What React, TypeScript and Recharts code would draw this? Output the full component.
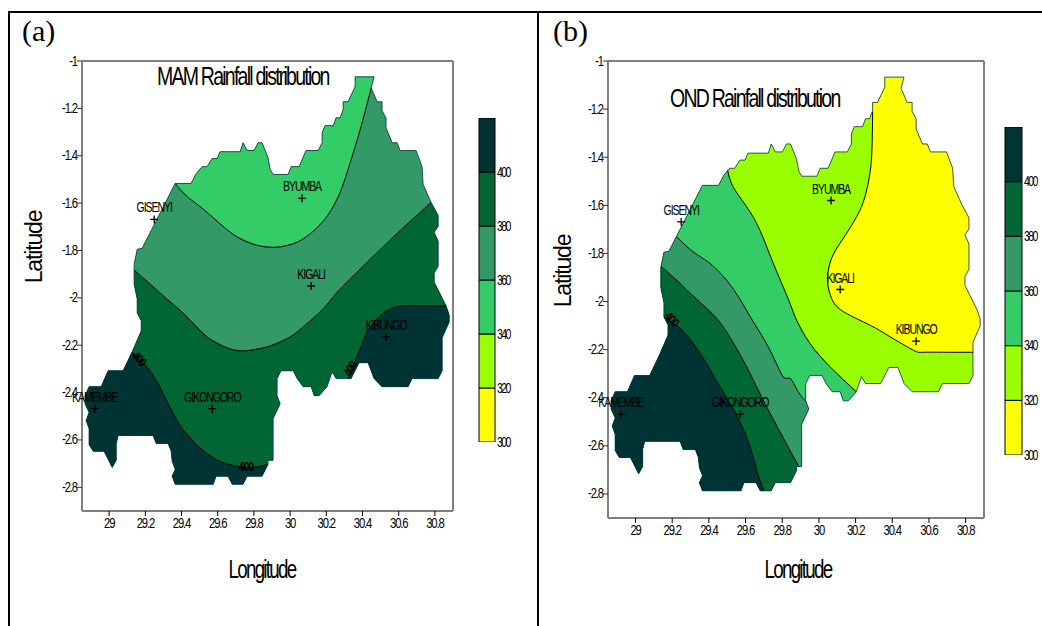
import React from 'react';
import { ScatterChart, Scatter, XAxis, YAxis, BarChart, Bar } from 'recharts';

type Pt = [number, number]; // lon, lat

const LON_TICKS = [29, 29.2, 29.4, 29.6, 29.8, 30, 30.2, 30.4, 30.6, 30.8];
const LAT_TICKS = [-1, -1.2, -1.4, -1.6, -1.8, -2, -2.2, -2.4, -2.6, -2.8];
const LON_DOMAIN = [28.85, 30.9];
const LAT_DOMAIN = [-2.9, -1];

const LEVELS = [300, 320, 340, 360, 380, 400];
const LEVEL_COLORS = ['#ffff00', '#99ff00', '#33cc66', '#339966', '#006633', '#003333'];
const BAND_WIDTH = 20;

const CITY_NAMES = ['GISENYI', 'BYUMBA', 'KIGALI', 'KIBUNGO', 'KAMEMBE', 'GIKONGORO'];
const CITY_LON = [29.249, 30.066, 30.116, 30.53, 28.92, 29.57];
const CITY_LAT = [-1.669, -1.58, -1.95, -2.165, -2.468, -2.468];

// Country border, clockwise from the north-west corner
const OUTLINE: Pt[] = [
  [29.365, -1.517], [29.453, -1.517], [29.481, -1.475], [29.514, -1.446], [29.541, -1.446],
  [29.569, -1.412], [29.597, -1.412], [29.613, -1.383], [29.724, -1.383], [29.74, -1.345],
  [29.762, -1.378], [29.801, -1.378], [29.823, -1.345], [29.845, -1.345], [29.878, -1.408],
  [29.89, -1.458], [29.906, -1.479], [29.989, -1.479], [30.006, -1.446], [30.05, -1.446],
  [30.088, -1.378], [30.155, -1.378], [30.177, -1.345], [30.177, -1.303], [30.193, -1.273],
  [30.238, -1.273], [30.254, -1.24], [30.276, -1.24], [30.293, -1.206], [30.293, -1.172],
  [30.32, -1.172], [30.359, -1.109], [30.359, -1.067], [30.464, -1.067], [30.448, -1.114],
  [30.481, -1.172], [30.508, -1.172], [30.508, -1.21], [30.53, -1.24], [30.53, -1.282],
  [30.564, -1.345], [30.591, -1.345], [30.608, -1.378], [30.696, -1.378], [30.729, -1.446],
  [30.735, -1.521], [30.779, -1.597], [30.818, -1.652], [30.818, -1.698], [30.796, -1.723],
  [30.818, -1.761], [30.818, -1.866], [30.796, -1.896], [30.796, -1.933], [30.862, -2.034],
  [30.879, -2.072], [30.879, -2.102], [30.84, -2.169], [30.84, -2.308], [30.818, -2.341],
  [30.674, -2.341], [30.652, -2.375], [30.508, -2.375], [30.464, -2.341], [30.431, -2.274],
  [30.381, -2.274], [30.337, -2.341], [30.254, -2.341], [30.232, -2.312], [30.204, -2.375],
  [30.16, -2.413], [30.133, -2.413], [30.116, -2.375], [30.072, -2.375], [30.039, -2.341],
  [30.017, -2.308], [29.95, -2.308], [29.928, -2.341], [29.928, -2.413], [29.945, -2.447],
  [29.906, -2.51], [29.906, -2.686], [29.878, -2.686], [29.878, -2.703], [29.845, -2.753],
  [29.762, -2.753], [29.74, -2.787], [29.68, -2.787], [29.657, -2.753], [29.591, -2.753],
  [29.575, -2.787], [29.365, -2.787], [29.348, -2.753], [29.365, -2.724], [29.348, -2.69],
  [29.343, -2.648], [29.326, -2.615], [29.26, -2.615], [29.243, -2.581], [29.05, -2.581],
  [29.039, -2.615], [29.039, -2.686], [29.017, -2.716], [28.972, -2.648], [28.912, -2.648],
  [28.889, -2.619], [28.889, -2.552], [28.873, -2.518], [28.889, -2.484], [28.867, -2.447],
  [28.867, -2.413], [28.889, -2.375], [28.956, -2.375], [28.994, -2.308], [29.077, -2.308],
  [29.127, -2.228], [29.177, -2.14], [29.177, -2.097], [29.155, -2.064], [29.155, -2.005],
  [29.138, -1.942], [29.138, -1.883], [29.138, -1.858], [29.155, -1.795], [29.182, -1.791],
];

// MAM contours
const MAM_340: Pt[] = [
  [29.365, -1.517], [29.431, -1.572], [29.541, -1.639], [29.685, -1.732], [29.818, -1.778],
  [29.928, -1.786], [30.039, -1.765], [30.127, -1.719], [30.204, -1.656], [30.276, -1.555],
  [30.332, -1.429], [30.387, -1.29], [30.448, -1.114],
];
const MAM_380: Pt[] = [
  [29.138, -1.883], [29.227, -1.942], [29.32, -2.005], [29.431, -2.081], [29.541, -2.165],
  [29.652, -2.211], [29.735, -2.224], [29.873, -2.207], [30, -2.165], [30.072, -2.123],
  [30.182, -2.047], [30.26, -1.976], [30.387, -1.879], [30.569, -1.744], [30.779, -1.597],
];
const MAM_400_WEST: Pt[] = [
  [29.127, -2.228], [29.204, -2.287], [29.265, -2.354], [29.32, -2.438], [29.392, -2.539],
  [29.486, -2.623], [29.597, -2.686], [29.707, -2.711], [29.796, -2.716], [29.878, -2.703],
];
const MAM_400_EAST: Pt[] = [
  [30.32, -2.341], [30.359, -2.266], [30.387, -2.215], [30.425, -2.144], [30.481, -2.089],
  [30.541, -2.051], [30.624, -2.034], [30.735, -2.034], [30.862, -2.034],
];

// OND contours
const OND_320: Pt[] = [
  [30.293, -1.21], [30.289, -1.37], [30.278, -1.467], [30.251, -1.564], [30.206, -1.647],
  [30.133, -1.737], [30.069, -1.82], [30.047, -1.911], [30.069, -1.987], [30.133, -2.042],
  [30.278, -2.098], [30.387, -2.146], [30.514, -2.202], [30.569, -2.211], [30.697, -2.211],
  [30.84, -2.211],
];
const OND_340: Pt[] = [
  [29.502, -1.453], [29.532, -1.523], [29.606, -1.606], [29.678, -1.703], [29.751, -1.841],
  [29.833, -1.99], [29.878, -2.077], [29.951, -2.174], [30.06, -2.271], [30.204, -2.375],
];
const OND_360: Pt[] = [
  [29.223, -1.73], [29.314, -1.793], [29.405, -1.841], [29.496, -1.911], [29.569, -1.99],
  [29.642, -2.084], [29.733, -2.202], [29.805, -2.313], [29.842, -2.319], [29.887, -2.375],
  [29.928, -2.413],
];
const OND_380: Pt[] = [
  [29.142, -1.855], [29.242, -1.924], [29.333, -1.99], [29.442, -2.07], [29.524, -2.16],
  [29.606, -2.271], [29.687, -2.396], [29.787, -2.541], [29.89, -2.686],
];
const OND_400: Pt[] = [
  [29.155, -2.064], [29.242, -2.111], [29.314, -2.174], [29.387, -2.257], [29.46, -2.354],
  [29.551, -2.472], [29.624, -2.604], [29.669, -2.721], [29.7, -2.787],
];

// contour labels: lon, lat, rotation
const MAM_LABELS: [number, number, number][] = [[29.166, -2.257, 48], [29.757, -2.716, 0], [30.332, -2.299, -62]];
const OND_LABELS: [number, number, number][] = [[29.198, -2.073, 48]];

const SANS = '"Liberation Sans", Arial, sans-serif';

const toRows = (pts: Pt[]) => pts.map(([lon, lat]) => ({ lon, lat }));
const rev = (pts: Pt[]) => [...pts].reverse();
const cityRows = CITY_NAMES.map((name, i) => ({ name, lon: CITY_LON[i], lat: CITY_LAT[i] }));
const noDot = () => <g />;

// the source figure has tall, squeezed lettering with overlapping glyphs
const Squished = ({ x, y, sx = 0.75, size = 15, spacing = '-0.1em', anchor = 'middle', rotate = 0, children }: any) => (
  <text
    transform={`translate(${x} ${y}) rotate(${rotate}) scale(${sx} 1)`}
    textAnchor={anchor}
    fontFamily={SANS}
    fontSize={size}
    letterSpacing={spacing}
    fill="#000"
  >
    {children}
  </text>
);

const BottomTick = ({ x, y, payload }: any) => <Squished x={x} y={y + 12}>{String(payload.value)}</Squished>;
const LeftTick = ({ x, y, payload }: any) => (
  <Squished x={x} y={y + 4.5} anchor="end">{String(payload.value)}</Squished>
);
const BlankTick = () => <g />;

const CityMark = ({ cx, cy, payload }: any) => (
  <g>
    <path d={`M${cx - 4} ${cy}h8M${cx} ${cy - 4}v8`} stroke="#000" strokeWidth={1.3} fill="none" />
    <Squished x={cx} y={cy - 7} size={14}>{payload.name}</Squished>
  </g>
);

const ContourLabel = ({ cx, cy, payload }: any) => (
  <g transform={`translate(${cx} ${cy}) rotate(${payload.rot})`}>
    <text textAnchor="middle" y={4} fontFamily={SANS} fontSize={12} fontWeight="bold" fill="#000"
      letterSpacing="-0.08em" transform="scale(0.85 1)">400</text>
  </g>
);

const zone = (key: string, pts: Pt[], fill: string) => (
  <Scatter key={key} data={toRows(pts)} line={{ fill, stroke: 'none' }} lineJointType="linear"
    shape={noDot} isAnimationActive={false} />
);
const contour = (key: string, pts: Pt[]) => (
  <Scatter key={key} data={toRows(pts)} line={{ stroke: '#000', strokeWidth: 1 }} lineJointType="natural"
    shape={noDot} isAnimationActive={false} />
);

const MapPanel = ({ left, width, height, margin, letter, title, titleX, titleY, latX, latY, lonX, labels, children }: any) => (
  <div style={{ position: 'absolute', left, top: 0 }}>
    <ScatterChart width={width} height={height} margin={margin}>
      <XAxis dataKey="lon" type="number" domain={LON_DOMAIN} ticks={LON_TICKS} height={30}
        interval={0} tickSize={5} tickMargin={0} tick={BottomTick} stroke="#000" />
      <XAxis xAxisId="top" orientation="top" dataKey="lon" type="number" domain={LON_DOMAIN} ticks={LON_TICKS}
        height={30} interval={0} tickSize={5} tick={BlankTick} stroke="#000" />
      <YAxis dataKey="lat" type="number" domain={LAT_DOMAIN} ticks={LAT_TICKS} width={40}
        interval={0} tickSize={5} tickMargin={0} tick={LeftTick}
        axisLine={{ stroke: '#808080', strokeWidth: 2 }} tickLine={{ stroke: '#333' }} />
      <YAxis yAxisId="right" orientation="right" dataKey="lat" type="number" domain={LAT_DOMAIN} ticks={LAT_TICKS}
        width={10} interval={0} tickSize={5} tick={BlankTick}
        axisLine={{ stroke: '#808080', strokeWidth: 2 }} tickLine={{ stroke: '#555' }} />
      {children}
      <Scatter data={toRows([...OUTLINE, OUTLINE[0]])} line={{ stroke: '#003333', strokeWidth: 0.8 }}
        lineJointType="linear" shape={noDot} isAnimationActive={false} />
      <Scatter data={labels.map(([lon, lat, rot]: number[]) => ({ lon, lat, rot }))} shape={ContourLabel}
        isAnimationActive={false} />
      <Scatter data={cityRows} shape={CityMark} isAnimationActive={false} />
      <text x={letter === '(a)' ? 22 : 13} y={41} fontFamily='"Liberation Serif", serif' fontSize={30} fill="#000">{letter}</text>
      <Squished x={titleX} y={titleY} size={26} spacing="-0.09em" anchor="start">{title}</Squished>
      <Squished x={lonX} y={578} size={25} spacing="-0.09em">Longitude</Squished>
      <Squished x={latX} y={latY} size={23} sx={1} spacing="-0.05em" rotate={-90}>Latitude</Squished>
    </ScatterChart>
  </div>
);

const bandRow: Record<string, number> = { name: 0, base: LEVELS[0] };
LEVELS.forEach((l) => { bandRow[`band${l}`] = BAND_WIDTH; });

const BarTick = ({ x, y, payload }: any) => (
  <Squished x={x} y={y + 4.5} size={14} spacing="-0.15em" anchor="start">{String(payload.value)}</Squished>
);

const ColorBar = ({ left, top, width, height, axisWidth }: any) => (
  <div style={{ position: 'absolute', left, top }}>
    <BarChart width={width} height={height} data={[bandRow]} barCategoryGap={0} stackOffset="none"
      margin={{ top: 1, right: 0, bottom: 9, left: 1 }}>
      <XAxis dataKey="name" hide />
      <YAxis orientation="right" type="number" domain={[300, 420]} ticks={LEVELS} allowDataOverflow width={axisWidth}
        axisLine={false} tickLine={false} tickMargin={2} tickSize={0} interval={0} tick={BarTick} />
      <Bar dataKey="base" stackId="k" fill="none" stroke="none" isAnimationActive={false} />
      {LEVELS.map((l, i) => (
        <Bar key={l} dataKey={`band${l}`} stackId="k" fill={LEVEL_COLORS[i]} stroke="#000" strokeWidth={1}
          isAnimationActive={false} />
      ))}
    </BarChart>
  </div>
);

export default function App() {
  return (
    <div style={{ position: 'absolute', left: 0, top: 0, width: 1042, height: 626, background: '#fff', overflow: 'hidden' }}>
      <div style={{ position: 'absolute', left: 8, top: 11, width: 1034, height: 2, background: '#000' }} />
      <div style={{ position: 'absolute', left: 8, top: 11, width: 2, height: 615, background: '#000' }} />
      <div style={{ position: 'absolute', left: 537, top: 11, width: 2, height: 615, background: '#000' }} />

      <MapPanel left={0} width={536} height={600} margin={{ top: 31, right: 73, bottom: 59, left: 42 }}
        letter="(a)" title="MAM Rainfall distribution" titleX={157} titleY={85}
        latX={42} latY={247} lonX={262} labels={MAM_LABELS}>
        {zone('mam-base', OUTLINE, LEVEL_COLORS[3])}
        {zone('mam-340', [...OUTLINE.slice(0, 35), ...rev(MAM_340)], LEVEL_COLORS[2])}
        {zone('mam-380', [...OUTLINE.slice(46, 122), ...MAM_380], LEVEL_COLORS[4])}
        {zone('mam-400w', [...OUTLINE.slice(83, 116), ...MAM_400_WEST], LEVEL_COLORS[5])}
        {zone('mam-400e', [...OUTLINE.slice(54, 67), ...MAM_400_EAST], LEVEL_COLORS[5])}
        {contour('c-mam-340', MAM_340)}
        {contour('c-mam-380', MAM_380)}
        {contour('c-mam-400w', MAM_400_WEST)}
        {contour('c-mam-400e', MAM_400_EAST)}
      </MapPanel>

      <MapPanel left={540} width={502} height={600} margin={{ top: 31, right: 48, bottom: 52, left: 28 }}
        letter="(b)" title="OND Rainfall distribution" titleX={130} titleY={107}
        latX={31} latY={271} lonX={258} labels={OND_LABELS}>
        {zone('ond-base', OUTLINE, LEVEL_COLORS[1])}
        {zone('ond-320', [...OUTLINE.slice(28, 58), ...rev(OND_320)], LEVEL_COLORS[0])}
        {zone('ond-340', [...OUTLINE.slice(69), ...OUTLINE.slice(0, 4), ...OND_340], LEVEL_COLORS[2])}
        {zone('ond-360', [...OUTLINE.slice(78, 125), ...OND_360], LEVEL_COLORS[3])}
        {zone('ond-380', [...OUTLINE.slice(82, 123), ...OND_380], LEVEL_COLORS[4])}
        {zone('ond-400', [...OUTLINE.slice(87, 119), ...OND_400], LEVEL_COLORS[5])}
        {contour('c-ond-320', OND_320)}
        {contour('c-ond-340', OND_340)}
        {contour('c-ond-360', OND_360)}
        {contour('c-ond-380', OND_380)}
        {contour('c-ond-400', OND_400)}
      </MapPanel>

      <ColorBar left={478} top={117} width={36} height={334} axisWidth={19} />
      <ColorBar left={1004} top={126} width={36} height={338} axisWidth={18} />
    </div>
  );
}
